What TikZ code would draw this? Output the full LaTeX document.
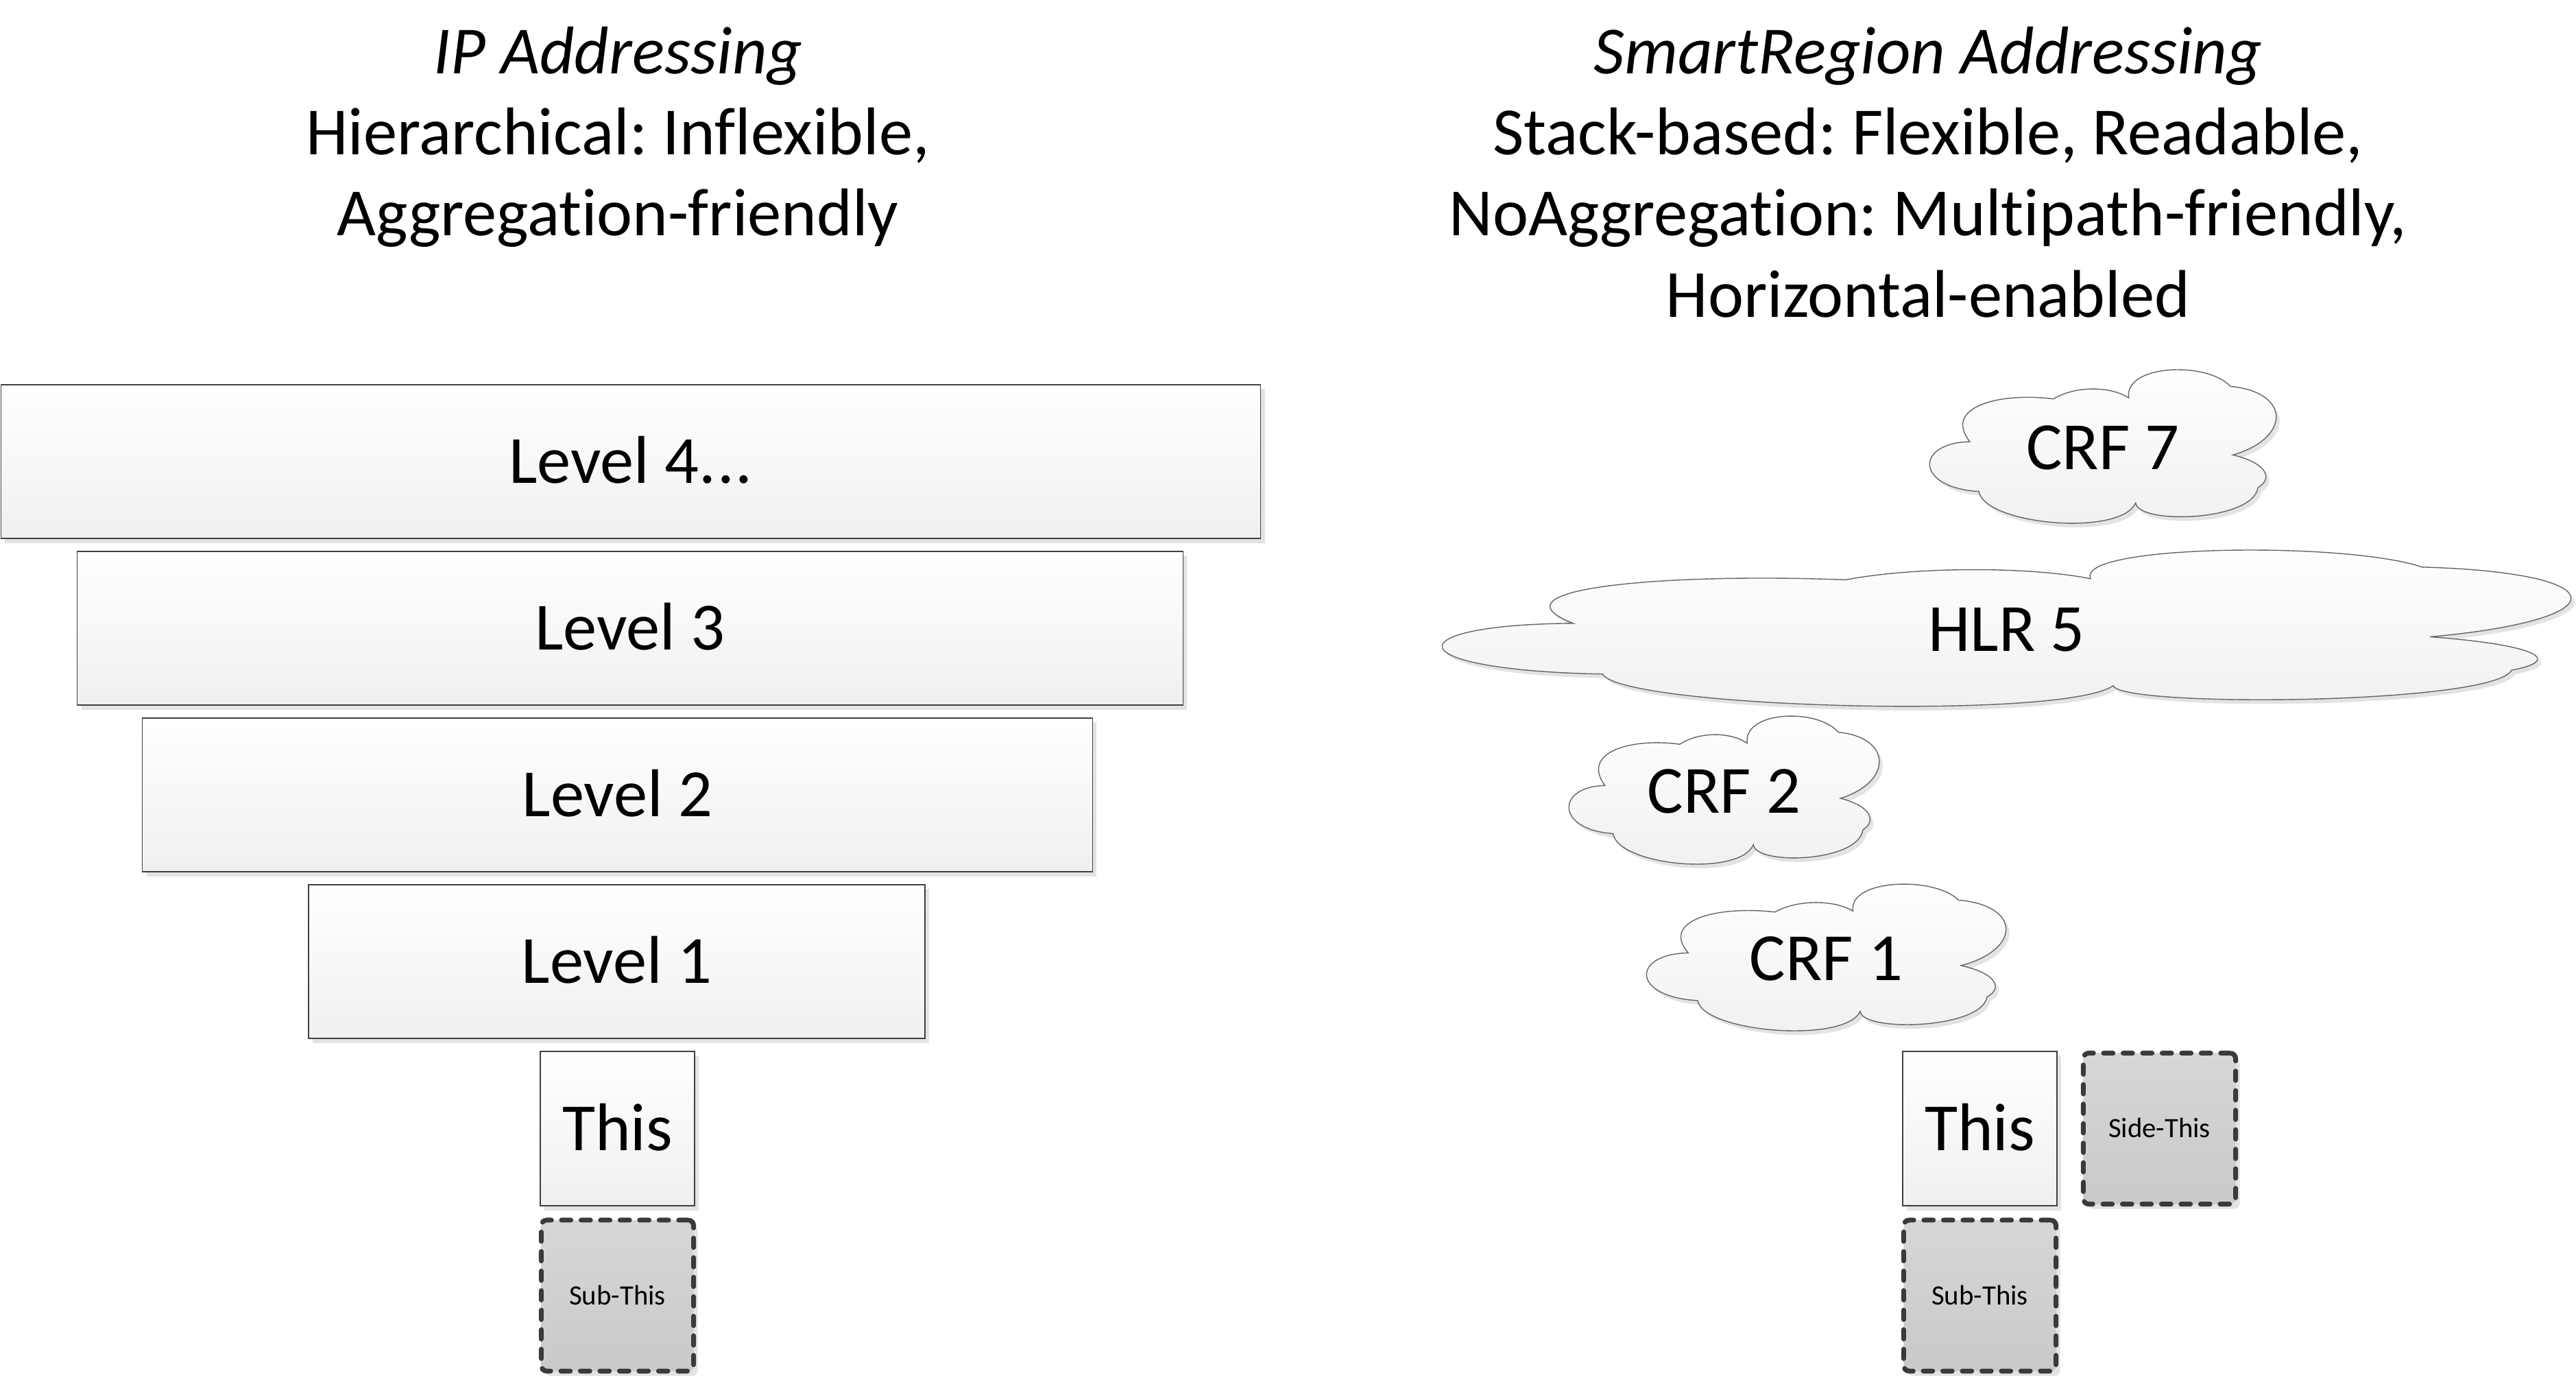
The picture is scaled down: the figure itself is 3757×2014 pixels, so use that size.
\documentclass[tikz,border=0pt]{standalone}
\usepackage{fontspec}
\setmainfont{Carlito}[Ligatures={NoCommon}]
\usetikzlibrary{shadows}
\definecolor{edge}{HTML}{404040}
\definecolor{dashedge}{HTML}{3A3A3A}
\definecolor{shade}{HTML}{E3E3E3}
\newcommand\bigfont{\fontsize{28}{33.7}\selectfont}
\newcommand\smallfont{\fontsize{11.6}{14}\selectfont}
\newcommand\cloudpath{(0.118,0.462) .. controls (-0.04,0.47) and (-0.04,0.76) .. (0.144,0.785)
 .. controls (0.16,1.0) and (0.55,1.08) .. (0.594,0.859)
 .. controls (0.60,1.0) and (0.93,0.98) .. (0.945,0.76)
 .. controls (0.99,0.70) and (0.97,0.60) .. (0.873,0.548)
 .. controls (1.04,0.44) and (1.04,0.14) .. (0.866,0.104)
 .. controls (0.80,-0.06) and (0.56,-0.04) .. (0.574,0.178)
 .. controls (0.52,0.10) and (0.42,0.10) .. (0.358,0.185)
 .. controls (0.20,0.14) and (0.04,0.24) .. (0.118,0.462) -- cycle}
\newcommand\cloudat[6]{%
  \pgfmathsetmacro\cw{(#4-#2)*0.01}%
  \pgfmathsetmacro\ch{-(#5-#3)*0.01}%
  \begin{scope}[shift={(#2+5,#3+6)},x=\cw cm,y=\ch cm]
    \fill[cloudshadow] \cloudpath;
  \end{scope}
  \begin{scope}[shift={(#2,#3)},x=\cw cm,y=\ch cm]
    \draw[cloudbody] \cloudpath;
  \end{scope}
  \node[cloudtext] (#1) at ({(#2+#4)/2},{(#3+#5)/2}) {#6};
}
\frenchspacing
\begin{document}
\begin{tikzpicture}[x=0.01cm,y=-0.01cm,
  lvlbox/.style={draw=edge, line width=0.45pt, top color=white, bottom color=black!6,
    inner sep=0pt, font=\bigfont, text height=0.63cm, text depth=0pt,
    drop shadow={shadow xshift=0.06cm, shadow yshift=-0.065cm, fill=shade, opacity=1}},
  dashbox/.style={draw=dashedge, line width=2pt, dash pattern=on 3.9pt off 4.2pt,
    line cap=round, rounded corners=0.08cm, top color=black!16, bottom color=black!21,
    inner sep=0pt, font=\smallfont, text height=0.26cm, text depth=0pt,
    minimum width=2.22cm, minimum height=2.2cm,
    drop shadow={shadow xshift=0.06cm, shadow yshift=-0.07cm, fill=shade, opacity=1}},
  cloudbody/.style={draw=edge!80, line width=0.4pt, top color=white, bottom color=black!6},
  cloudshadow/.style={fill=shade},
  cloudtext/.style={font=\bigfont, inner sep=0pt, text height=0.63cm, text depth=0pt},
  ttl/.style={font=\bigfont, inner sep=0pt, anchor=base}]
\useasboundingbox[fill=white] (0,0) rectangle (3757,2014);

% titles
\node[ttl] (tl1) at (901,107) {\itshape IP Addressing};
\node[ttl] (tl2) at (901,225) {Hierarchical: Inflexible,};
\node[ttl] (tl3) at (901,343) {Aggregation-friendly};
\node[ttl] (tr1) at (2812,107) {\itshape SmartRegion Addressing};
\node[ttl] (tr2) at (2812,225) {Stack-based: Flexible, Readable,};
\node[ttl] (tr3) at (2812,343) {NoAggregation: Multipath-friendly,};
\node[ttl] (tr4) at (2812,462) {Horizontal-enabled};

% left stack
\node[lvlbox, minimum width=18.36cm, minimum height=2.24cm] (l4) at (920,673) {Level 4.\kern0.02em.\kern0.02em.};
\node[lvlbox, minimum width=16.12cm, minimum height=2.24cm] (l3) at (919,916) {Level 3};
\node[lvlbox, minimum width=13.85cm, minimum height=2.24cm] (l2) at (900.5,1159) {Level 2};
\node[lvlbox, minimum width=8.99cm, minimum height=2.24cm] (l1) at (899.5,1402) {Level 1};
\node[lvlbox, minimum width=2.25cm, minimum height=2.25cm] (thisL) at (900.5,1645.5) {This};
\node[dashbox] (subL) at (900.5,1889) {Sub-This};

% right clouds
\cloudat{crf7}{2813}{540}{3321}{765}{CRF 7}
\cloudat{hlr5}{2099}{803}{3754}{1032}{HLR 5}
\cloudat{crf2}{2287}{1045}{2742}{1262}{CRF 2}
\cloudat{crf1}{2400}{1290}{2927}{1505}{CRF 1}

% right boxes
\node[lvlbox, minimum width=2.25cm, minimum height=2.25cm] (thisR) at (2887.5,1645.5) {This};
\node[dashbox] (side) at (3149.5,1645.5) {Side-This};
\node[dashbox] (subR) at (2887.5,1889) {Sub-This};
\end{tikzpicture}
\end{document}
